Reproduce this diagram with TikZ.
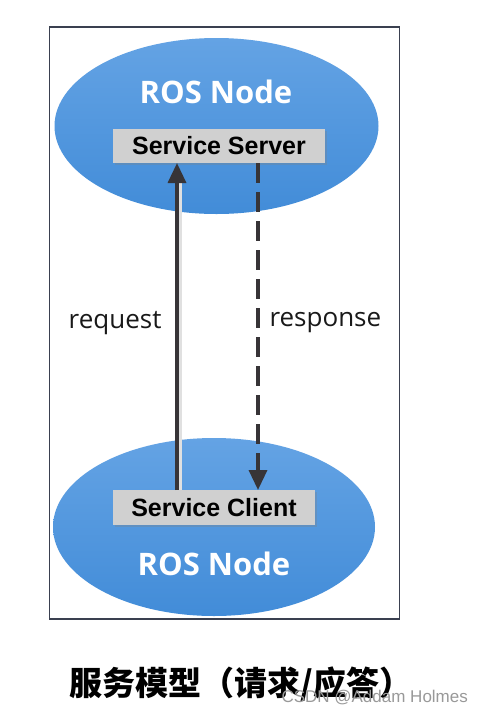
\documentclass[tikz,border=0pt]{standalone}
\usepackage{fontspec}
\setmainfont{Liberation Sans}
\newfontfamily\titlefont{Open Sans}
\newfontfamily\cjk{Noto Sans CJK SC}
\usetikzlibrary{shapes.geometric,arrows.meta,shadows}
\definecolor{nodeblue}{RGB}{66,140,216}
\definecolor{nodeblueL}{RGB}{100,163,228}
\definecolor{boxgray}{RGB}{208,208,208}
\definecolor{framecol}{RGB}{58,64,80}
\definecolor{arrowcol}{RGB}{55,52,55}
\tikzset{
  rosnode/.style={ellipse, inner sep=0pt, top color=nodeblueL, bottom color=nodeblue, draw=none},
  rostitle/.style={text=white, font=\titlefont\bfseries\fontsize{31}{34}\selectfont},
  svcbox/.style={rectangle, inner sep=0pt, fill=boxgray, draw=none, drop shadow={shadow xshift=1.5pt, shadow yshift=-1.5pt, opacity=0.3},
     font=\bfseries\fontsize{25}{28}\selectfont, text=black},
  lbl/.style={font=\titlefont\fontsize{26}{29}\selectfont, text=black!90},
  reqarrow/.style={draw=arrowcol, line width=3.4pt, -{Triangle[length=20pt,width=18pt]}},
  resarrow/.style={draw=arrowcol, line width=3.4pt, dash pattern=on 20pt off 9pt, -{Triangle[length=20pt,width=18pt]}},
  arrshadow/.style={draw=black!12, line width=3pt},
}
\begin{document}
\begin{tikzpicture}[x=1pt,y=-1pt]
\useasboundingbox[fill=white] (0,0) rectangle (478,713);
\node[draw=framecol, line width=1.8pt, minimum width=350pt, minimum height=592pt, inner sep=0pt] (frame) at (224.5,323) {};
\node[rosnode, minimum width=324pt, minimum height=176pt] (top) at (216.5,126) {};
\node[rosnode, minimum width=322pt, minimum height=178pt] (bot) at (214,527) {};
\node[rostitle] (toptitle) at (216,92) {ROS Node};
\node[rostitle] (bottitle) at (214,564) {ROS Node};
\node[svcbox, minimum width=212pt, minimum height=34pt] (server) at (219,146) {Service Server};
\node[svcbox, minimum width=202pt, minimum height=35pt] (client) at (214,507.5) {Service Client};
\coordinate (reqS) at (177,490);
\coordinate (reqE) at (177,163);
\coordinate (resS) at (258,163);
\coordinate (resE) at (258,490);
\coordinate (reqSs) at (180.5,490);
\coordinate (reqEs) at (180.5,183);
\draw[arrshadow] (reqSs) -- (reqEs);
\draw[reqarrow] (reqS) -- (reqE);
\draw[resarrow] (resS) -- (resE);
\node[lbl, anchor=east] (req) at (165,323) {request};
\node[lbl, anchor=west] (res) at (266,323) {response};
\node[font=\cjk\bfseries\fontsize{33}{36}\selectfont, anchor=west] (cap) at (66,684) {服务模型（请求/应答）};
\node[font=\fontsize{17}{19}\selectfont, text=black!40, anchor=west] (wm) at (278,698) {CSDN @Addam Holmes};
\end{tikzpicture}
\end{document}
